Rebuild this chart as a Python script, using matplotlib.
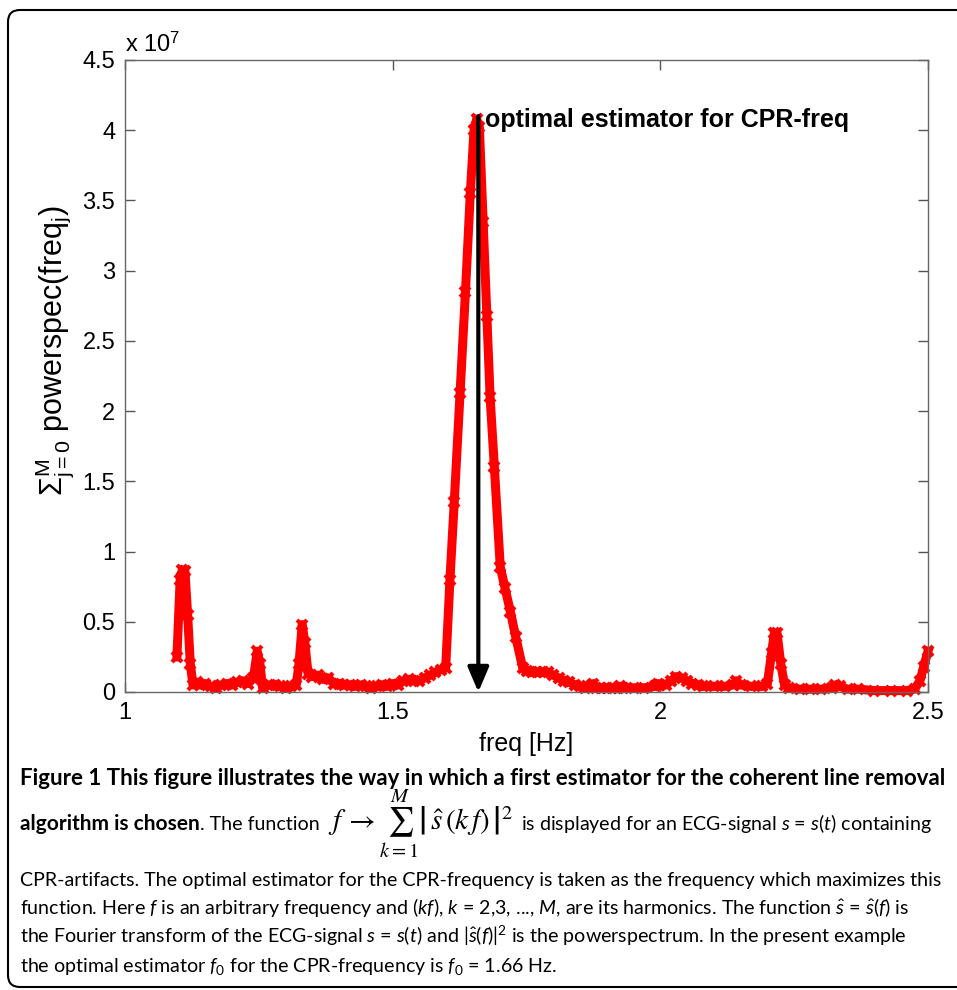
# Coherent line removal - first estimator for the CPR frequency
import numpy as np
import matplotlib
matplotlib.use('Agg')
import matplotlib.pyplot as plt
from matplotlib.patches import FancyBboxPatch
from matplotlib.transforms import IdentityTransform

# Summed power spectrum (units of 1e7) against frequency (Hz)
freq = [1.097, 1.103, 1.107, 1.112, 1.117, 1.122, 1.127, 1.135, 1.140, 1.150,
        1.160, 1.170, 1.180, 1.190, 1.200, 1.210, 1.220, 1.230, 1.240, 1.247,
        1.252, 1.257, 1.270, 1.280, 1.290, 1.300, 1.310, 1.320, 1.325, 1.331,
        1.336, 1.342, 1.350, 1.360, 1.370, 1.380, 1.390, 1.400, 1.410, 1.420,
        1.430, 1.440, 1.450, 1.460, 1.470, 1.480, 1.490, 1.500, 1.510, 1.520,
        1.530, 1.540, 1.550, 1.560, 1.570, 1.580, 1.590, 1.599, 1.607, 1.615,
        1.626, 1.636, 1.645, 1.652, 1.657, 1.662, 1.669, 1.676, 1.682, 1.690,
        1.701, 1.710, 1.720, 1.730, 1.743, 1.750, 1.760, 1.770, 1.780, 1.790,
        1.800, 1.810, 1.820, 1.830, 1.840, 1.850, 1.860, 1.870, 1.875, 1.880,
        1.890, 1.900, 1.910, 1.920, 1.925, 1.930, 1.950, 1.970, 1.990, 1.995,
        2.000, 2.010, 2.020, 2.030, 2.040, 2.050, 2.060, 2.070, 2.080, 2.100,
        2.120, 2.135, 2.142, 2.150, 2.170, 2.190, 2.200, 2.208, 2.213, 2.218,
        2.225, 2.232, 2.240, 2.260, 2.280, 2.300, 2.320, 2.327, 2.335, 2.350,
        2.370, 2.400, 2.430, 2.460, 2.475, 2.485, 2.492, 2.500]
power = [0.25, 0.80, 0.87, 0.86, 0.55, 0.20, 0.05, 0.07, 0.05, 0.06,
         0.04, 0.03, 0.05, 0.06, 0.05, 0.07, 0.08, 0.06, 0.10, 0.29,
         0.20, 0.03, 0.05, 0.05, 0.04, 0.03, 0.04, 0.05, 0.20, 0.48,
         0.35, 0.13, 0.11, 0.12, 0.09, 0.10, 0.06, 0.06, 0.05, 0.05,
         0.04, 0.05, 0.04, 0.03, 0.04, 0.05, 0.04, 0.06, 0.05, 0.08,
         0.09, 0.08, 0.08, 0.10, 0.12, 0.14, 0.16, 0.17, 0.80, 1.35,
         2.13, 2.85, 3.55, 4.00, 4.08, 4.02, 3.35, 2.68, 2.10, 1.60,
         0.89, 0.74, 0.57, 0.39, 0.17, 0.15, 0.14, 0.14, 0.14, 0.14,
         0.12, 0.10, 0.08, 0.07, 0.05, 0.04, 0.03, 0.04, 0.06, 0.03,
         0.03, 0.03, 0.03, 0.03, 0.04, 0.03, 0.03, 0.03, 0.04, 0.06,
         0.05, 0.05, 0.08, 0.11, 0.10, 0.08, 0.06, 0.05, 0.04, 0.04,
         0.04, 0.05, 0.08, 0.05, 0.04, 0.04, 0.06, 0.28, 0.42, 0.42,
         0.20, 0.05, 0.03, 0.02, 0.02, 0.02, 0.03, 0.05, 0.04, 0.02,
         0.02, 0.01, 0.01, 0.01, 0.02, 0.08, 0.18, 0.29]

x_ticks = [1, 1.5, 2, 2.5]
x_ticklabels = ['1', '1.5', '2', '2.5']
y_ticks = [0, 0.5, 1, 1.5, 2, 2.5, 3, 3.5, 4, 4.5]
y_ticklabels = ['0', '0.5', '1', '1.5', '2', '2.5', '3', '3.5', '4', '4.5']

f0 = 1.66          # optimal estimator
f0_top = 4.1       # top of the arrow (x 1e7)

W, H = 957, 990
chart_font = 'Liberation Sans'
cap_font = 'Lato'
cap_size = 14.1

plt.rcParams['mathtext.fontset'] = 'custom'
plt.rcParams['mathtext.rm'] = cap_font
plt.rcParams['mathtext.it'] = cap_font + ':italic'
plt.rcParams['mathtext.bf'] = cap_font + ':bold'

fig = plt.figure(figsize=(W / 100, H / 100), dpi=100)
renderer = fig.canvas.get_renderer()

# Axes placed in pixel terms
ax = fig.add_axes([125 / W, 1 - 692 / H, (928 - 125) / W, (692 - 60) / H])
ax.plot(freq, power, color='red', lw=6.5, marker='x', ms=7, mew=3, clip_on=False)
ax.set_xlim(1, 2.5)
ax.set_ylim(0, 4.5)
ax.set_xticks(x_ticks)
ax.set_xticklabels(x_ticklabels, fontfamily=chart_font)
ax.set_yticks(y_ticks)
ax.set_yticklabels(y_ticklabels, fontfamily=chart_font)
ax.tick_params(direction='in', top=True, right=True, length=7, width=1,
               color='#555555', labelcolor='black', labelsize=17, pad=7)
for sp in ax.spines.values():
    sp.set_color('#666666')
    sp.set_linewidth(1)

ax.set_xlabel('freq [Hz]', fontsize=18, fontfamily=chart_font, labelpad=6)
ax.set_ylabel(r'$\mathregular{\Sigma^{M}_{j=0}}$ powerspec(freq$_{\mathregular{j}}$)',
              fontsize=22, fontfamily=chart_font)
ax.yaxis.set_label_coords(-0.061, 0.54)

fig.text(125 / W, 1 - 52 / H, r'x 10$^{\mathregular{7}}$', fontsize=17,
         fontfamily=chart_font, va='baseline')

# Arrow and annotation at the maximum
ax.annotate('', xy=(f0, 0), xytext=(f0, f0_top),
            arrowprops=dict(arrowstyle='-|>,head_length=0.75,head_width=0.32',
                            color='black', lw=3, mutation_scale=20,
                            shrinkA=0, shrinkB=0))
ax.text(1.672, 4.07, 'optimal estimator for CPR-freq', fontsize=18,
        fontweight='bold', fontfamily=chart_font, va='center', ha='left')


# Caption, written piece by piece along a baseline
def put(xpx, ypx, s, **kw):
    kw.setdefault('fontsize', cap_size)
    kw.setdefault('fontfamily', cap_font)
    t = fig.text(xpx / W, 1 - ypx / H, s, va='baseline', **kw)
    return t.get_window_extent(renderer).x1


left = 20
put(left, 785, 'Figure 1 This figure illustrates the way in which a first estimator '
    'for the coherent line removal', fontweight='bold', fontsize=16)

x = put(left, 830, 'algorithm is chosen', fontweight='bold', fontsize=15)
x = put(x, 830, '. The function')
x = put(x + 8, 830,
        r'$f\,\rightarrow\sum_{k=1}^{M}\left|\,\hat{s}\,(k\,f)\,\right|^{2}$',
        fontsize=21, math_fontfamily='stix')
put(x + 9, 830, 'is displayed for an ECG-signal $s$ = $s$($t$) containing')

put(left, 886, 'CPR-artifacts. The optimal estimator for the CPR-frequency is taken '
    'as the frequency which maximizes this')
put(left, 914, r'function. Here $f$ is an arbitrary frequency and ($kf$), $k$ = 2,3, ..., '
    r'$M$, are its harmonics. The function $\hat{s}$ = $\hat{s}$($f$) is')
put(left, 943, r'the Fourier transform of the ECG-signal $s$ = $s$($t$) and '
    r'$|\hat{s}(f)|^{2}$ is the powerspectrum. In the present example')
put(left, 972, r'the optimal estimator $f_{0}$ for the CPR-frequency is $f_{0}$ = 1.66 Hz.')

# Rounded frame round the figure
frame = FancyBboxPatch((8, 3), 1000, H - 13, boxstyle='round,pad=0,rounding_size=12',
                       transform=IdentityTransform(), fill=False, ec='black', lw=1.5)
fig.add_artist(frame)

plt.savefig('out.png', dpi=100)
